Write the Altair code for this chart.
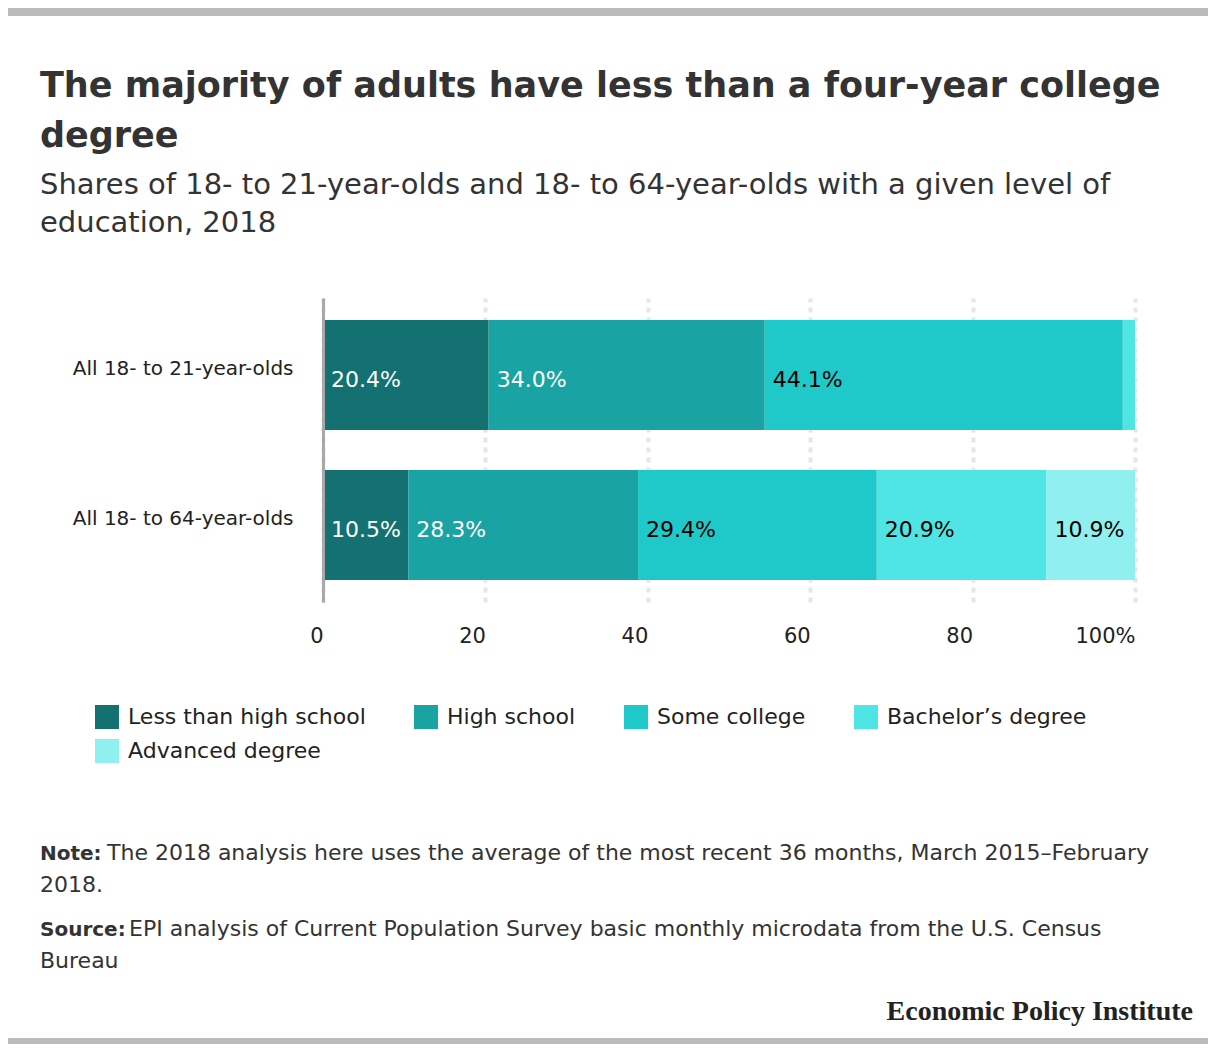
import pandas as pd
import altair as alt

FONT = "DejaVu Sans"

groups = ["All 18- to 21-year-olds", "All 18- to 64-year-olds"]
levels = ["Less than high school", "High school", "Some college",
          "Bachelor’s degree", "Advanced degree"]
colors = ["#137171", "#19a3a3", "#20c9c9", "#4fe5e5", "#8ff0ef"]
ages_18_21 = [20.4, 34.0, 44.1, 1.5, 0.0]
ages_18_64 = [10.5, 28.3, 29.4, 20.9, 10.9]

rows = []
for g, vals in zip(groups, [ages_18_21, ages_18_64]):
    for i, (lvl, v) in enumerate(zip(levels, vals)):
        rows.append({"group": g, "level": lvl, "order": i, "share": v})
df = pd.DataFrame(rows)

base = alt.Chart(df).transform_stack(
    stack="share", as_=["x0", "x1"], groupby=["group"],
    sort=[alt.SortField("order", order="ascending")]
)

bars = base.mark_bar(strokeWidth=0).encode(
    x=alt.X("x0:Q", title=None,
            scale=alt.Scale(domain=[0, 100], nice=False),
            axis=alt.Axis(values=[0, 20, 40, 60, 80, 100],
                          labelExpr="datum.value == 100 ? '100%' : datum.label",
                          labelAlign="right", labelBaseline="top", labelPadding=23,
                          labelFont=FONT, labelFontSize=21, labelColor="#222",
                          domain=False, ticks=False, grid=True,
                          gridColor="#e6e6e6", gridDash=[5, 5], gridWidth=4)),
    x2="x1:Q",
    y=alt.Y("group:N", sort=groups, title=None,
            scale=alt.Scale(paddingInner=0.267, paddingOuter=0.147),
            axis=alt.Axis(domain=True, domainColor="#a8a8a8", domainWidth=3,
                          ticks=False, grid=False, labelPadding=30, labelOffset=-6,
                          labelFont=FONT, labelFontSize=20, labelColor="#222",
                          labelLimit=400, zindex=1)),
    color=alt.Color("level:N", sort=levels,
                    scale=alt.Scale(domain=levels, range=colors),
                    legend=alt.Legend(orient="none", legendX=-228, legendY=407,
                                      direction="horizontal", columns=4, title=None,
                                      symbolType="square", symbolSize=576,
                                      symbolStrokeWidth=0, symbolOpacity=1,
                                      labelFont=FONT, labelFontSize=22, labelColor="#222",
                                      labelOffset=9, labelLimit=400,
                                      columnPadding=48, rowPadding=10)),
)

values = base.transform_filter("datum.share > 3").transform_calculate(
    lab="format(datum.share, '.1f') + '%'"
).mark_text(align="left", baseline="middle", dx=8, dy=5,
            font=FONT, fontSize=22).encode(
    x="x0:Q",
    y=alt.Y("group:N", sort=groups),
    text="lab:N",
    color=alt.condition("datum.order < 2", alt.value("white"), alt.value("black")),
)


def note(text, x, y, size, weight="normal", font=FONT, align="left",
         color="#333", line_height=None):
    kw = dict(align=align, baseline="alphabetic", font=font, fontSize=size,
              fontWeight=weight, color=color)
    if line_height:
        kw["lineHeight"] = line_height
    return alt.Chart(pd.DataFrame({"n": [0]})).mark_text(**kw).encode(
        x=alt.value(x), y=alt.value(y), text=alt.value(text))


def band(y, y2):
    return alt.Chart(pd.DataFrame({"n": [0]})).mark_rect(color="#bbbbbb").encode(
        x=alt.value(-315), x2=alt.value(885), y=alt.value(y), y2=alt.value(y2))


extras = [
    band(-290, -282),
    band(740, 746),
    note(["The majority of adults have less than a four-year college", "degree"],
         -283, -201, 35, weight="bold", line_height=50),
    note(["Shares of 18- to 21-year-olds and 18- to 64-year-olds with a given level of",
          "education, 2018"], -283, -104, 29, line_height=38),
    note("Note:", -283, 562, 20, weight="bold"),
    note("The 2018 analysis here uses the average of the most recent 36 months, March 2015–February",
         -216, 562, 22),
    note("2018.", -283, 594, 22),
    note("Source:", -283, 638, 20, weight="bold"),
    note("EPI analysis of Current Population Survey basic monthly microdata from the U.S. Census",
         -194, 638, 22),
    note("Bureau", -283, 670, 22),
    note("Economic Policy Institute", 870, 722, 28, weight="bold",
         font="Liberation Serif", align="right", color="#222"),
]

chart = alt.layer(bars, values, *extras).properties(
    width=812, height=304,
    autosize=alt.AutoSizeParams(type="none"),
    padding={"left": 315, "top": 290, "right": 73, "bottom": 442},
).configure_view(stroke=None)

chart.save("out.html", embed_options={"renderer": "svg", "actions": False})
